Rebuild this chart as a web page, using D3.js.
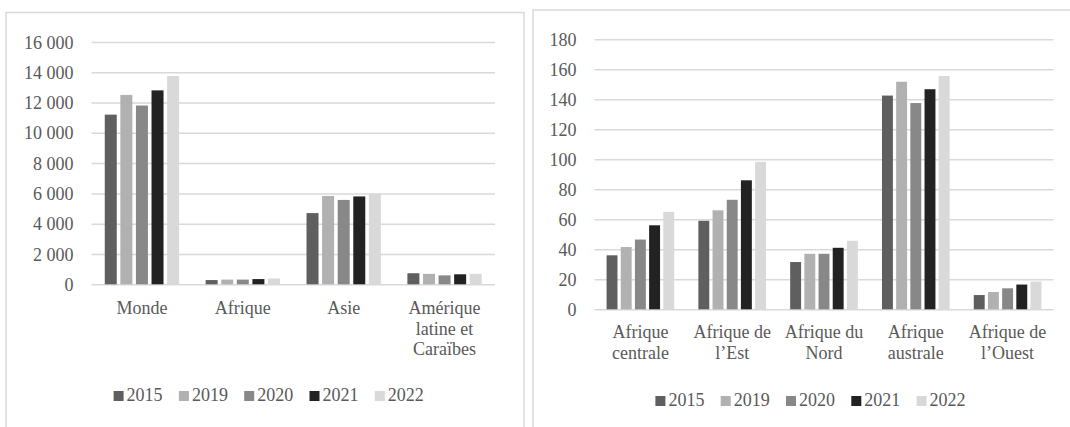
<!DOCTYPE html>
<html><head><meta charset="utf-8">
<script src="https://cdn.jsdelivr.net/npm/d3@7"></script>
<style>
html,body{margin:0;padding:0;background:#fff;}
svg{display:block;}
text{font-family:"Liberation Serif","Times New Roman",serif;fill:#595959;}
</style></head>
<body>
<svg id="chart" width="1070" height="427"></svg>
<script>
// ---- data ----
const years = ["2015", "2019", "2020", "2021", "2022"];
const colors = ["#5f5f5f", "#b1b1b1", "#888888", "#222222", "#d9d9d9"];

const leftCategories = ["Monde", "Afrique", "Asie", "Amérique\nlatine et\nCaraïbes"];
const left2015 = [11200, 280, 4700, 730];
const left2019 = [12500, 310, 5830, 690];
const left2020 = [11800, 310, 5570, 590];
const left2021 = [12800, 345, 5800, 660];
const left2022 = [13750, 385, 5990, 690];
const leftTicks = [0, 2000, 4000, 6000, 8000, 10000, 12000, 14000, 16000];

const rightCategories = ["Afrique\ncentrale", "Afrique de\nl’Est", "Afrique du\nNord", "Afrique\naustrale", "Afrique de\nl’Ouest"];
const right2015 = [36, 59, 31.5, 142.5, 9.5];
const right2019 = [41.5, 66, 37, 151.7, 11.5];
const right2020 = [46.5, 73, 37, 137.5, 14];
const right2021 = [56, 86, 41, 146.7, 16.5];
const right2022 = [65, 98.3, 45.7, 155.5, 18.5];
const rightTicks = [0, 20, 40, 60, 80, 100, 120, 140, 160, 180];

const svg = d3.select("#chart");
const locale = d3.formatLocale({decimal: ",", thousands: "\u00a0", grouping: [3], currency: ["", ""]});
const fmt = locale.format(",");

function panel(cfg) {
  const g = svg.append("g");
  // border
  g.append("rect").attr("x", cfg.box[0]).attr("y", cfg.box[1])
    .attr("width", cfg.box[2]).attr("height", cfg.box[3])
    .attr("fill", "none").attr("stroke", "#d9d9d9").attr("stroke-width", 1.5);

  const x = d3.scaleBand().domain(cfg.categories).range([cfg.x0, cfg.x1])
    .paddingInner(0.263).paddingOuter(0.1315);
  const xs = d3.scaleBand().domain(cfg.years).range([0, x.bandwidth()]).paddingInner(0.23);
  const y = d3.scaleLinear().domain([0, cfg.max]).range([cfg.y0, cfg.y1]);

  // gridlines + y labels
  const ya = g.append("g").attr("transform", `translate(${cfg.x0},0)`)
    .call(d3.axisLeft(y).tickValues(cfg.ticks).tickSize(-(cfg.x1 - cfg.x0)).tickPadding(0).tickFormat(fmt));
  ya.select(".domain").remove();
  ya.selectAll(".tick line").attr("stroke", "#d9d9d9").attr("stroke-width", 1.5);
  ya.selectAll(".tick text").attr("x", cfg.labelRight - cfg.x0).attr("dy", "0.34em")
    .style("font-family", '"Liberation Serif", serif').style("font-size", "18px").attr("fill", "#595959");

  // bars
  const series = cfg.series;
  cfg.years.forEach((yr, i) => {
    g.append("g").selectAll("rect").data(cfg.categories.map((c, j) => ({c, v: series[i][j]})))
      .join("rect")
      .attr("x", d => x(d.c) + xs(yr))
      .attr("width", xs.bandwidth())
      .attr("y", d => y(d.v))
      .attr("height", d => y(0) - y(d.v))
      .attr("fill", cfg.colors[i]);
  });

  // x labels
  const xa = g.append("g").attr("transform", `translate(0,${cfg.y0})`)
    .call(d3.axisBottom(x).tickSize(0).tickFormat(""));
  xa.select(".domain").remove();
  xa.selectAll(".tick").each(function(c) {
    const t = d3.select(this).select("text").text(null)
      .attr("y", 0).attr("dy", null)
      .style("font-family", '"Liberation Serif", serif').style("font-size", "18px").attr("fill", "#595959");
    c.split("\n").forEach((line, k) => {
      t.append("tspan").attr("x", 0).attr("y", cfg.labelDy + k * 20.5).text(line);
    });
  });

  // legend
  const lg = g.append("g");
  const step = 65.3;
  const totalW = step * (cfg.years.length - 1) + 49;
  const lx = cfg.legendCx - totalW / 2;
  cfg.years.forEach((yr, i) => {
    const it = lg.append("g").attr("transform", `translate(${lx + i * step},${cfg.legendY})`);
    it.append("rect").attr("x", 0).attr("y", -9.7).attr("width", 10).attr("height", 10).attr("fill", cfg.colors[i]);
    it.append("text").attr("x", 13).attr("y", 0).style("font-size", "18px").text(yr);
  });
}

panel({
  box: [6, 12.5, 518, 430],
  categories: leftCategories, years, colors,
  series: [left2015, left2019, left2020, left2021, left2022],
  ticks: leftTicks, max: 16000,
  x0: 91.5, x1: 495, y0: 284.3, y1: 41.9,
  labelRight: 73.5, labelDy: 30,
  legendCx: 268.7, legendY: 400.7
});

panel({
  box: [533, 10, 560, 430],
  categories: rightCategories, years, colors,
  series: [right2015, right2019, right2020, right2021, right2022],
  ticks: rightTicks, max: 180,
  x0: 594.5, x1: 1053.5, y0: 309.3, y1: 39.3,
  labelRight: 576.5, labelDy: 29,
  legendCx: 810.5, legendY: 405.7
});
</script>
</body></html>
